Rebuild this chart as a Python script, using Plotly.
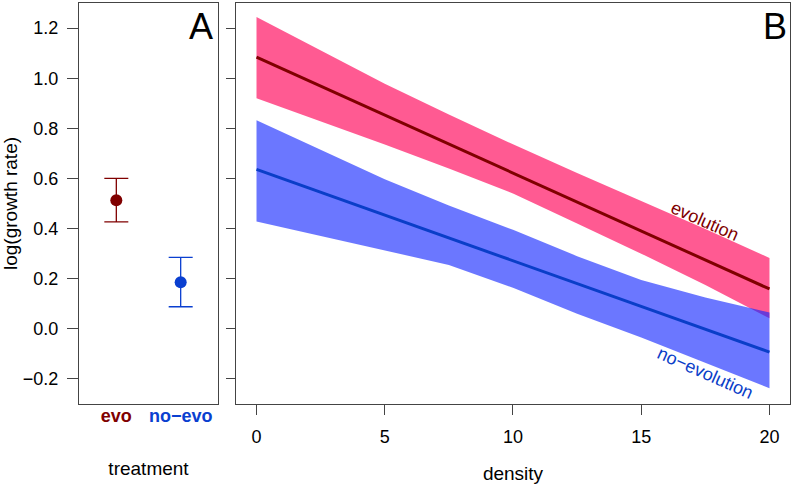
import plotly.graph_objects as go

# ---- Panel A data ----
treatments = ["evo", "no\u2212evo"]
treat_pos = [1, 2]
treat_mean = [0.513, 0.186]
treat_err_plus = [0.087, 0.099]
treat_err_minus = [0.086, 0.098]
treat_colors = ["#800000", "#0a3fd0"]

# ---- Panel B data ----
density = [0, 5, 7.5, 10, 12.5, 15, 17.5, 20]
evo_upper = [1.244, 0.978, 0.855, 0.736, 0.622, 0.511, 0.398, 0.283]
evo_lower = [0.920, 0.735, 0.640, 0.540, 0.420, 0.300, 0.175, 0.042]
noevo_upper = [0.832, 0.597, 0.492, 0.395, 0.290, 0.195, 0.125, 0.065]
noevo_lower = [0.428, 0.313, 0.255, 0.164, 0.060, -0.035, -0.135, -0.237]
line_x = [0, 20]
evo_line = [1.084, 0.159]
noevo_line = [0.636, -0.093]

y_ticks = [-0.2, 0.0, 0.2, 0.4, 0.6, 0.8, 1.0, 1.2]
x_ticks = [0, 5, 10, 15, 20]

FONT = "Liberation Sans, Arial, sans-serif"
BOX = "#444444"
TICKFS = 18
TITLEFS = 19

fig = go.Figure()

# Panel A
for i in range(len(treatments)):
    fig.add_trace(go.Scatter(
        x=[treat_pos[i]], y=[treat_mean[i]], mode="markers",
        marker=dict(size=12, color=treat_colors[i]),
        error_y=dict(type="data", symmetric=False,
                     array=[treat_err_plus[i]], arrayminus=[treat_err_minus[i]],
                     color=treat_colors[i], thickness=1.3, width=12),
        xaxis="x", yaxis="y", showlegend=False, hoverinfo="skip"))

# Panel B bands
fig.add_trace(go.Scatter(
    x=density + density[::-1], y=evo_upper + evo_lower[::-1],
    fill="toself", fillcolor="rgba(255,20,100,0.70)", line=dict(width=0),
    mode="lines", xaxis="x2", yaxis="y2", showlegend=False, hoverinfo="skip"))
fig.add_trace(go.Scatter(
    x=density + density[::-1], y=noevo_upper + noevo_lower[::-1],
    fill="toself", fillcolor="rgba(20,40,255,0.63)", line=dict(width=0),
    mode="lines", xaxis="x2", yaxis="y2", showlegend=False, hoverinfo="skip"))
fig.add_trace(go.Scatter(
    x=line_x, y=evo_line, mode="lines", line=dict(color="#800000", width=3),
    xaxis="x2", yaxis="y2", showlegend=False, hoverinfo="skip"))
fig.add_trace(go.Scatter(
    x=line_x, y=noevo_line, mode="lines", line=dict(color="#0a3ec8", width=3),
    xaxis="x2", yaxis="y2", showlegend=False, hoverinfo="skip"))

ticktext_a = [f"<b><span style='color:{c}'>{t}</span></b>" for t, c in zip(treatments, treat_colors)]

axis_common = dict(showline=True, mirror=True, linecolor=BOX, linewidth=1,
                   showgrid=False, zeroline=False,
                   tickfont=dict(family=FONT, size=TICKFS, color="black"))

fig.update_layout(
    width=793, height=484,
    margin=dict(l=79, r=3, t=3, b=80),
    paper_bgcolor="white", plot_bgcolor="white",
    font=dict(family=FONT, size=TITLEFS, color="black"),
    xaxis=dict(domain=[0, 0.1955], range=[0.42, 2.58], tickvals=treat_pos,
               ticktext=ticktext_a, ticks="", ticklabelstandoff=-5,
               title=dict(text="treatment", standoff=37, font=dict(family=FONT, size=TITLEFS)),
               **axis_common),
    yaxis=dict(domain=[0, 1], range=[-0.3, 1.3], tickvals=y_ticks,
               tickformat=".1f", ticks="outside", ticklen=11, tickcolor=BOX,
               ticklabelstandoff=5,
               title=dict(text="log(growth rate)", standoff=4, font=dict(family=FONT, size=TITLEFS)),
               **axis_common),
    xaxis2=dict(domain=[0.2208, 1.0], range=[-0.8, 20.8], tickvals=x_ticks,
                ticks="outside", ticklen=10, tickcolor=BOX, ticklabelstandoff=6,
                title=dict(text="density", standoff=21, font=dict(family=FONT, size=TITLEFS)),
                anchor="y2", **axis_common),
    yaxis2=dict(domain=[0, 1], range=[-0.3, 1.3], tickvals=y_ticks,
                showticklabels=False, ticks="outside", ticklen=9, tickcolor=BOX,
                anchor="x2", **axis_common),
    annotations=[
        dict(text="A", x=1, y=1, xref="x domain", yref="y domain",
             xanchor="right", yanchor="top", xshift=-3, yshift=-1,
             showarrow=False, font=dict(size=36, color="black")),
        dict(text="B", x=1, y=1, xref="x2 domain", yref="y2 domain",
             xanchor="right", yanchor="top", xshift=-1, yshift=-1,
             showarrow=False, font=dict(size=36, color="black")),
        dict(text="evolution", x=17.47, y=0.432, xref="x2", yref="y2",
             textangle=24, showarrow=False, font=dict(size=18, color="#800000")),
        dict(text="no\u2212evolution", x=17.5, y=-0.176, xref="x2", yref="y2",
             textangle=24, showarrow=False, font=dict(size=18, color="#0a3ec8")),
    ],
)

fig.write_html("out.html", config={"displayModeBar": False},
               post_script="document.body.style.margin='0';document.body.style.overflow='hidden';")
